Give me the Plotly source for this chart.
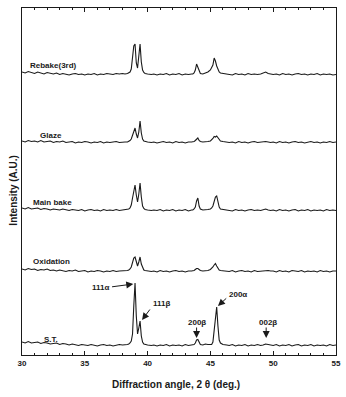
import plotly.graph_objects as go

# ---- data (relative intensities in arbitrary units) ----
two_theta = [30.0, 30.25, 30.5, 30.75, 31.0, 31.25, 31.5, 31.75, 32.0, 32.25, 32.5, 32.75, 33.0, 33.25, 33.5, 33.75,
             34.0, 34.25, 34.5, 34.75, 35.0, 35.25, 35.5, 35.75, 36.0, 36.25, 36.5, 36.75, 37.0, 37.25, 37.5, 37.75, 38.0,
             38.2, 38.4, 38.5, 38.6, 38.7, 38.8, 38.9, 39.0, 39.1, 39.2, 39.3, 39.4, 39.5, 39.6, 39.7, 39.8, 40.0, 40.3,
             40.5, 40.75, 41.0, 41.25, 41.5, 41.75, 42.0, 42.25, 42.5, 42.75, 43.0, 43.25, 43.5,
             43.6, 43.7, 43.8, 43.9, 44.0, 44.1, 44.2, 44.4,
             44.6, 44.8, 45.0, 45.1, 45.2, 45.3, 45.4, 45.5, 45.6, 45.7, 45.8, 46.0, 46.3,
             46.5, 46.75, 47.0, 47.25, 47.5, 47.75, 48.0, 48.25, 48.5, 48.75, 49.0,
             49.2, 49.4, 49.6, 49.8,
             50.0, 50.25, 50.5, 50.75, 51.0, 51.25, 51.5, 51.75, 52.0, 52.25, 52.5, 52.75, 53.0, 53.25, 53.5, 53.75,
             54.0, 54.25, 54.5, 54.75, 55.0]

st = [4, 3, 4.5, 3, 3.5, 4, 2.5, 3.5, 3, 2, 2.5, 3, 1.5, 2.5, 2, 1, 2, 1.5, 0.5, 1.5, 1, 0.5, 1.5, 1, 0, 1, 1.5, 0.5, 1, 0, 1, 1.5, 1,
      1, 1.5, 2, 3, 5, 12, 40, 63, 30, 12, 18, 25, 10, 4, 2, 1.5, 1, 0.5,
      1, 0, 1, 0.5, 1.5, 0, 1, 0.5, 1, 0, 1.5, 0.5, 1,
      1, 1.5, 3, 6, 6.5, 3, 1.5, 1,
      2, 1.5, 1, 1.5, 4, 15, 32, 39, 20, 6, 3, 1.5, 1,
      0.5, 1.5, 0, 1, 0.5, 1.5, 0, 1, 0.5, 1.5, 0.5,
      1, 2, 1.5, 1,
      0.5, 1.5, 0, 1, 0.5, 1.5, 0, 1, 1.5, 0, 1, 0.5, 1.5, 0, 1, 0.5, 1, 0, 1.5, 0.5, 1]

oxidation = [3, 2, 3.5, 2.5, 3, 1.5, 2.5, 2, 3, 1.5, 2, 1, 2, 1.5, 0.5, 1.5, 1, 2, 0.5, 1, 1.5, 0, 1, 0.5, 1.5, 1, 0, 1, 0.5, 1.5, 0.5, 1, 1,
             1, 1.5, 2, 3, 5, 9, 14, 15, 9, 6, 10, 15, 8, 4, 2, 1.5, 1, 0.5,
             1, 0, 1.5, 0.5, 1, 0, 1, 1.5, 0.5, 1, 0, 1, 1,
             1, 1.5, 2.5, 3.5, 3.5, 2, 1.5, 1,
             1, 1.5, 2.5, 3.5, 5, 7, 8.5, 6, 3.5, 2, 1.5, 1, 1,
             0.5, 1.5, 0, 1, 1.5, 0.5, 1, 0, 1.5, 0.5, 1,
             1, 1.5, 1.5, 1,
             1, 0, 1.5, 0.5, 1, 0, 1.5, 1, 0.5, 1.5, 0, 1, 0.5, 1, 0, 1.5, 0.5, 1, 0, 1, 1]

main_bake = [3, 2, 3.5, 2, 2.5, 3, 1.5, 2.5, 2, 1, 2, 1.5, 1, 2, 1.5, 0.5, 1.5, 1, 0.5, 1.5, 0, 1, 1.5, 0.5, 1, 0, 1.5, 0.5, 1, 0.5, 1.5, 0.5, 1,
             1, 1.5, 2, 3, 6, 13, 22, 26, 16, 9, 17, 28, 14, 5, 2.5, 1.5, 1, 0.5,
             1, 0.5, 1.5, 0, 1, 0.5, 1.5, 0, 1, 0.5, 1.5, 0, 1,
             1, 2, 4, 10, 13, 5, 2, 1,
             1, 1.5, 2, 3, 5, 9, 14, 15, 9, 4, 2, 1.5, 1,
             1, 0, 1.5, 0.5, 1, 0, 1, 1.5, 0.5, 1, 0.5,
             1, 2, 1, 0.5,
             1, 0, 1.5, 0.5, 1, 0, 1, 1.5, 0, 1, 0.5, 1.5, 0, 1, 0.5, 1, 0, 1.5, 0.5, 1, 0.5]

glaze = [2, 1, 2.5, 1.5, 2, 1, 2.5, 1, 1.5, 2, 0.5, 1.5, 1, 2, 0.5, 1, 1.5, 0, 1, 0.5, 1.5, 1, 0, 1, 0.5, 1.5, 0, 1, 0.5, 1, 1.5, 0.5, 1,
         1, 1, 1.5, 2.5, 4, 8, 13, 15, 9, 5, 11, 22, 10, 4, 2, 1.5, 1, 0.5,
         1, 0, 1, 1.5, 0.5, 1, 0, 1.5, 0.5, 1, 0, 1, 1,
         1, 1.5, 2.5, 4, 5, 2.5, 1.5, 1,
         1, 1.5, 2, 3, 4.5, 6.5, 6, 7, 5, 3, 2, 1.5, 1,
         0.5, 1, 0, 1.5, 0.5, 1, 0, 1, 1.5, 0.5, 1,
         1, 1.5, 1, 0.5,
         1, 0, 1.5, 0.5, 1, 0, 1, 1.5, 0.5, 1, 0, 1, 1.5, 0.5, 1, 0, 1, 0.5, 1.5, 0.5, 1]

rebake = [3, 2, 3.5, 2.5, 1.5, 3, 2, 1, 2.5, 1.5, 1, 2, 0.5, 1.5, 1, 0, 1, 1.5, 0.5, 1, 0, 1, 0.5, 1.5, 0, 1, 0.5, 1.5, 1, 0.5, 1.5, 1, 1.5,
          1, 1.5, 2, 3, 6, 16, 29, 31, 12, 7, 20, 31, 13, 5, 2.5, 1.5, 1, 0.5,
          1, 0, 1, 0.5, 1.5, 0, 1, 0.5, 1.5, 0, 1, 0.5, 1,
          1, 2, 5, 11, 7, 3, 1.5, 1,
          2, 3, 5, 7, 10, 17, 14, 9, 5, 3, 2, 1.5, 1,
          1, 0, 1.5, 0.5, 1, 0, 1.5, 0.5, 1, 0.5, 1,
          2, 3, 1.5, 1,
          0.5, 1, 0, 1.5, 0.5, 1, 0, 1, 1.5, 0.5, 1, 0, 1, 0.5, 1.5, 0, 1, 0.5, 1, 0, 0.5]

series_names = ["S.T.", "Oxidation", "Main bake", "Glaze", "Rebake(3rd)"]
series_values = [st, oxidation, main_bake, glaze, rebake]
offsets = [9, 83, 144, 212, 280]          # vertical stacking offsets
label_x = [32.31, 32.35, 32.39, 32.27, 32.51]
label_y = [16, 94, 153, 220, 290]

x_ticks = [30, 35, 40, 45, 50, 55]

# peak annotations: text, text position, arrow tail, arrow head
peak_labels = ["111α", "111β", "200α", "200β", "002β"]
peak_text_x = [36.23, 41.09, 47.20, 43.95, 49.55]
peak_text_y = [68, 52, 61, 33, 33]
arrow_tail_x = [37.05, 40.27, 46.38, 43.90, 49.44]
arrow_tail_y = [68, 47, 58, 29, 29]
arrow_head_x = [38.86, 39.56, 45.60, 43.90, 49.44]
arrow_head_y = [71, 35, 49, 17, 17]

for s in series_values:
    assert len(s) == len(two_theta), (len(s), len(two_theta))

FONT = "Liberation Sans, Arial, sans-serif"
INK = "#1a1a1a"

fig = go.Figure()
for name, vals, off in zip(series_names, series_values, offsets):
    fig.add_trace(go.Scatter(
        x=two_theta, y=[v + off for v in vals], mode="lines", name=name,
        line=dict(color=INK, width=1.1), showlegend=False))

annotations = []
for name, lx, ly in zip(series_names, label_x, label_y):
    annotations.append(dict(x=lx, y=ly, xref="x", yref="y", text=name, showarrow=False,
                            font=dict(family=FONT, size=8, color=INK, weight="bold")))
for t, tx, ty in zip(peak_labels, peak_text_x, peak_text_y):
    annotations.append(dict(x=tx, y=ty, xref="x", yref="y", text=t, showarrow=False,
                            font=dict(family=FONT, size=8, color=INK, weight="bold")))
for ax_, ay_, hx, hy in zip(arrow_tail_x, arrow_tail_y, arrow_head_x, arrow_head_y):
    annotations.append(dict(x=hx, y=hy, ax=ax_, ay=ay_, xref="x", yref="y", axref="x", ayref="y",
                            text="", showarrow=True, arrowhead=2, arrowsize=1.4, arrowwidth=1,
                            arrowcolor=INK, standoff=0, startstandoff=0))
annotations.append(dict(x=0.49, y=-0.108, xref="paper", yref="paper", text="Diffraction angle, 2 θ (deg.)",
                        showarrow=False, font=dict(family=FONT, size=10, color=INK, weight="bold")))
annotations.append(dict(x=-0.05, y=0.476, xref="paper", yref="paper", text="Intensity (A.U.)",
                        textangle=-90, showarrow=False,
                        font=dict(family=FONT, size=10, color=INK, weight="bold")))

fig.update_layout(
    width=346, height=397,
    margin=dict(l=22, r=5, t=8, b=42),
    paper_bgcolor="white", plot_bgcolor="white",
    annotations=annotations,
    xaxis=dict(range=[30, 55], tickvals=x_ticks, ticktext=[str(v) for v in x_ticks],
               ticks="inside", ticklen=4, tickwidth=1, tickcolor=INK,
               minor=dict(dtick=1, ticks="inside", ticklen=2, tickcolor=INK, tick0=30),
               showline=True, linecolor=INK, linewidth=1, mirror="ticks",
               showgrid=False, zeroline=False,
               tickfont=dict(family=FONT, size=8, color=INK, weight="bold")),
    yaxis=dict(range=[0, 347], showticklabels=False, ticks="", showgrid=False, zeroline=False,
               showline=True, linecolor=INK, linewidth=1, mirror=True),
)

fig.write_html("out.html")
